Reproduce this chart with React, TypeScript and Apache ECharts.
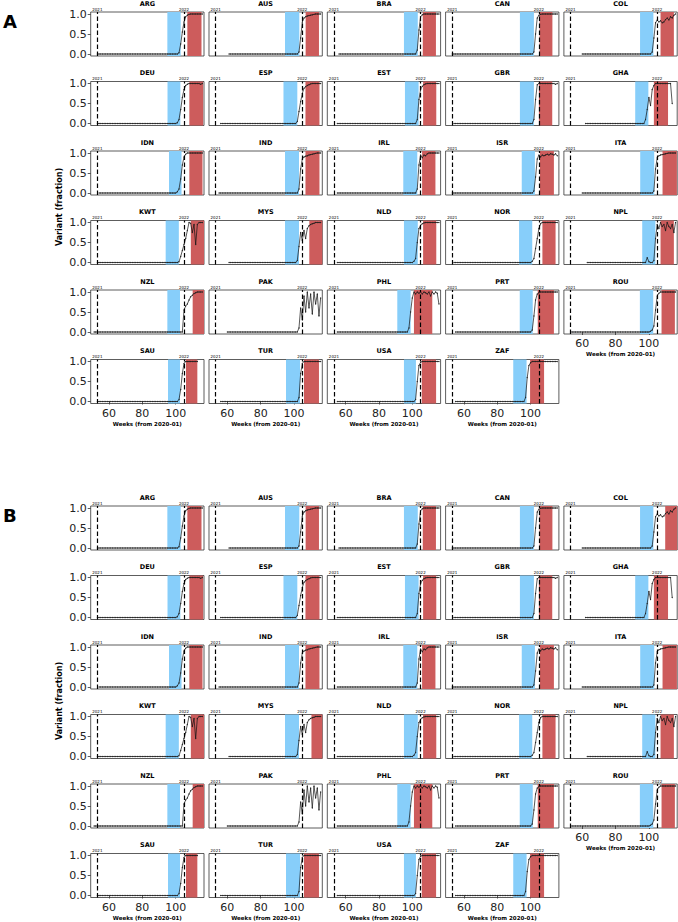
import React, { useEffect, useRef } from "react";
import * as echarts from "echarts";

const COUNTRIES = [
  "ARG", "AUS", "BRA", "CAN", "COL",
  "DEU", "ESP", "EST", "GBR", "GHA",
  "IDN", "IND", "IRL", "ISR", "ITA",
  "KWT", "MYS", "NLD", "NOR", "NPL",
  "NZL", "PAK", "PHL", "PRT", "ROU",
  "SAU", "TUR", "USA", "ZAF",
];

const X_TICKS = [60, 80, 100];
const Y_TICKS = [0, 0.5, 1];
const YEAR_LINES = [53, 105];
const YEAR_LABELS = ["2021", "2022"];

// first week with data; values before RISE are read as 0
const START_A = [53, 61, 56, 53, 60, 53, 56, 55, 54, 62, 54, 55, 55, 53, 60, 53, 61, 55, 54, 63, 51, 60, 55, 55, 53, 53, 56, 55, 55];
const RISE_WEEK_A = [102, 103, 103, 102, 102, 101, 102, 103, 102, 98, 101, 103, 103, 102, 103, 102, 102, 101, 101, 99, 104, 103, 98, 101, 101, 102, 103, 102, 97];
const RISE_A: number[][] = [
  [0.03, 0.25, 0.55, 0.8, 0.93, 0.97, 0.99, 1, 1, 1, 1, 1, 1, 1, 1],
  [0.05, 0.4, 0.8, 0.9, 0.93, 0.95, 0.96, 0.97, 0.98, 0.99, 1, 1, 1, 1],
  [0.1, 0.6, 0.93, 0.98, 1, 1, 1, 1, 1, 1, 1, 1, 1, 1],
  [0.05, 0.5, 0.9, 0.97, 0.99, 1, 1, 1, 1, 1, 1, 1, 1, 1, 1],
  [0.05, 0.4, 0.78, 0.85, 0.8, 0.83, 0.78, 0.8, 0.86, 0.9, 0.85, 0.93, 0.9, 0.97, 1],
  [0.02, 0.1, 0.35, 0.65, 0.85, 0.95, 0.98, 1, 1, 1, 1, 1, 1, 1, 0.98, 1],
  [0.05, 0.3, 0.55, 0.75, 0.88, 0.92, 0.95, 0.97, 0.99, 1, 1, 1, 1, 1, 1],
  [0.1, 0.6, 0.85, 0.93, 0.97, 0.99, 1, 1, 1, 1, 1, 1, 1, 1],
  [0.1, 0.6, 0.97, 1, 1, 1, 1, 1, 1, 1, 1, 1, 1, 0.98, 1],
  [0.1, 0.35, 0.65, 0.45, 0.85, 0.95, 1, 1, 1, 1, 1, 1, 1, 1, 1, 1, 0.5],
  [0.03, 0.1, 0.35, 0.7, 0.9, 0.97, 1, 1, 1, 1, 1, 1, 1, 1, 1, 1],
  [0.1, 0.6, 0.85, 0.9, 0.92, 0.93, 0.95, 0.96, 0.97, 0.98, 0.99, 1, 1, 1],
  [0.1, 0.7, 0.95, 0.88, 0.95, 0.93, 0.98, 1, 1, 1, 1, 1, 1, 1],
  [0.05, 0.4, 0.85, 0.95, 0.9, 0.95, 0.93, 0.95, 0.97, 0.95, 0.98, 0.97, 0.95, 0.98, 0.93],
  [0.05, 0.6, 0.88, 0.93, 0.95, 0.96, 0.97, 0.98, 0.99, 1, 1, 1, 1, 1],
  [0.02, 0.15, 0.3, 0.45, 0.6, 0.8, 1, 0.98, 0.75, 0.95, 0.45, 0.95, 1, 1, 1],
  [0.05, 0.4, 0.75, 0.55, 0.8, 0.6, 0.85, 0.92, 0.95, 0.97, 0.98, 1, 1, 1, 1],
  [0.03, 0.1, 0.5, 0.85, 0.93, 0.97, 0.99, 1, 1, 1, 1, 1, 1, 1, 1, 1],
  [0.03, 0.1, 0.35, 0.6, 0.85, 0.97, 1, 1, 1, 1, 1, 1, 1, 1, 1, 1],
  [0.12, 0.02, 0, 0, 0.05, 0.6, 0.95, 0.85, 1, 0.9, 0.95, 0.8, 1, 0.9, 0.85, 0.95, 0.75, 1],
  [0, 0.55, 0.65, 0.7, 0.8, 0.88, 0.92, 0.96, 0.98, 1, 1, 1, 1],
  [0.1, 0.6, 0.3, 0.9, 0.5, 1, 0.6, 0.95, 0.45, 1, 0.7, 0.95, 0.4, 0.85],
  [0.1, 0.5, 0.85, 1, 0.95, 1, 0.97, 1, 0.95, 1, 0.98, 0.95, 1, 0.9, 1, 0.95, 1, 0.97, 0.7],
  [0.05, 0.4, 0.8, 0.95, 0.98, 1, 1, 1, 1, 1, 1, 1, 1, 1, 1, 1],
  [0.02, 0.05, 0.15, 0.55, 0.9, 0.97, 1, 1, 1, 1, 1, 1, 1, 1, 1, 1],
  [0.05, 0.3, 0.7, 0.95, 1, 1, 1, 1, 1, 1, 1, 1],
  [0.1, 0.7, 0.95, 1, 1, 1, 1, 1, 1, 1, 1, 1, 1, 1],
  [0.05, 0.5, 0.9, 0.98, 1, 1, 1, 1, 1, 1, 1, 1, 1, 1, 1],
  [0.1, 0.6, 0.9, 0.97, 1, 1, 1, 1, 1, 1, 1, 1, 1, 1, 1, 1, 1, 1, 1, 1],
];
const BLUE_A: (number[] | null)[] = [
  [95, 103], [94.6, 103.2], [95, 103.3], [93.6, 102], [94.7, 102.7],
  [95.1, 102.8], [93.7, 102], [95.6, 103.8], [93.6, 102], [91.8, 99.7],
  [96, 103.5], [94.6, 103], [94.6, 103], [94.7, 102.6], [94.8, 103.2],
  [94, 101.9], [94.6, 103], [95, 103.3], [93.1, 101], [96, 103.9],
  [95, 102.6], null, [91, 99], [93.5, 101.3], [94.6, 102.6],
  [95.4, 102.6], [95.2, 103.6], [95, 102.2], [89.6, 97.6],
];
const RED_A: (number[] | null)[] = [
  [107, 115.5], [107, 115], [106.3, 114.2], [105.4, 113.1], [107, 115],
  [108.2, 116.5], [106.9, 115.3], [106.5, 114.4], [105, 113], [103, 111.5],
  [108.2, 116.1], [106.9, 115.3], [105.9, 113.9], [105.6, 114], [108.2, 116.8],
  [109.1, 117], [109.2, 117], [106.5, 114.4], [107.1, 115], [107, 115],
  [110.2, 117], null, [101, 112], [104.3, 114], [107.6, 115.6],
  [106.2, 113], [106, 115], [105.7, 114.3], [99.7, 108.1],
];

// Panel B
const START_B = START_A;
const RISE_WEEK_B = RISE_WEEK_A;
const RISE_B = RISE_A;
const BLUE_B: (number[] | null)[] = [
  [95, 103], [94.6, 103.2], [95, 103.3], [93.6, 102], [94.7, 102.7],
  [95.1, 102.8], [93.7, 102], [95.6, 103.8], [93.6, 102], [91.8, 99.7],
  [96, 103.5], [94.6, 103], [94.6, 103], [94.7, 102.6], [94.8, 103.2],
  [94, 101.9], [94.6, 103], [95, 103.3], [93.1, 101], [96, 103.9],
  [95, 102.6], null, [91, 99], [93.5, 101.3], [94.6, 102.6],
  [95.4, 102.6], [95.2, 103.6], [95, 102.2], [89.6, 97.6],
];
const RED_B: (number[] | null)[] = [
  [107, 115.5], [107, 115], [106.3, 114.2], [105.4, 113.1], [109.8, 117],
  [108.2, 116.5], [106.9, 115.3], [106.5, 114.4], [105, 113], [103, 111.5],
  [108.2, 116.1], [106.9, 115.3], [105.9, 113.9], [105.6, 114], [108.2, 116.8],
  [109.1, 117], [110.5, 117], [106.5, 114.4], [107.1, 115], [107, 115],
  [110.2, 117], null, [101, 112], [104.3, 114], [107.6, 115.6],
  [106.2, 113], [106, 115], [105.7, 114.3], [99.7, 108.1],
];

const PANELS = [
  { label: "A", start: START_A, riseWeek: RISE_WEEK_A, rise: RISE_A, blue: BLUE_A, red: RED_A, offset: 0 },
  { label: "B", start: START_B, riseWeek: RISE_WEEK_B, rise: RISE_B, blue: BLUE_B, red: RED_B, offset: 494 },
];

const COL_LEFT = 90.7;
const COL_STEP = 118.3;
const PLOT_W = 113.3;
const ROW_TOP = 12;
const ROW_STEP = 69.5;
const PLOT_H = 44;
const FONT = "DejaVu Sans";

export default function App() {
  const ref = useRef<HTMLDivElement>(null);
  useEffect(() => {
    const chart = echarts.init(ref.current!, null, { renderer: "svg", width: 678, height: 922 });
    const grids: any[] = [];
    const xAxes: any[] = [];
    const yAxes: any[] = [];
    const series: any[] = [];
    const graphics: any[] = [];

    PANELS.forEach((panel) => {
      graphics.push({
        type: "text", x: 3, y: 12 + panel.offset,
        style: { text: panel.label, font: `bold 18px "${FONT}"`, fill: "#000" },
      });
      graphics.push({
        type: "text", x: 59, y: 207 + panel.offset, rotation: Math.PI / 2,
        style: { text: "Variant (fraction)", font: `bold 8px "${FONT}"`, fill: "#000", align: "center", verticalAlign: "middle" },
      });
      COUNTRIES.forEach((name, i) => {
        const row = Math.floor(i / 5);
        const col = i % 5;
        const left = COL_LEFT + col * COL_STEP;
        const top = ROW_TOP + row * ROW_STEP + panel.offset;
        const idx = grids.length;
        const isBottom = row === 5 || (row === 4 && col === 4);
        const isLeft = col === 0;
        grids.push({
          left, top, width: PLOT_W, height: PLOT_H, show: true,
          borderColor: "#333", borderWidth: 0.8, backgroundColor: "transparent",
        });
        graphics.push({
          type: "text", x: left + PLOT_W / 2, y: top - 8.5,
          style: { text: name, font: `bold 6.5px "${FONT}"`, fill: "#000", align: "center", verticalAlign: "middle" },
        });
        xAxes.push({
          type: "value", gridIndex: idx, min: 49, max: 117,
          axisLine: { show: false }, splitLine: { show: false },
          axisTick: { show: isBottom, customValues: X_TICKS, length: 3, lineStyle: { color: "#333", width: 0.8 } },
          axisLabel: { show: isBottom, customValues: X_TICKS, fontSize: 11, color: "#222", margin: 4, fontFamily: FONT },
          name: isBottom ? "Weeks (from 2020-01)" : "",
          nameLocation: "middle", nameGap: 17,
          nameTextStyle: { fontSize: 5.5, fontWeight: "bold", color: "#000", fontFamily: FONT },
        });
        yAxes.push({
          type: "value", gridIndex: idx, min: -0.05, max: 1.05,
          axisLine: { show: false }, splitLine: { show: false },
          axisTick: { show: isLeft, customValues: Y_TICKS, length: 3, lineStyle: { color: "#333", width: 0.8 } },
          axisLabel: { show: isLeft, customValues: Y_TICKS, fontSize: 11, color: "#222", margin: 4, fontFamily: FONT, formatter: (v: number) => v.toFixed(1) },
        });
        const data: number[][] = [];
        const s = panel.start[i];
        const rw = panel.riseWeek[i];
        for (let w = s; w < rw; w++) data.push([w, 0]);
        panel.rise[i].forEach((v, k) => data.push([rw + k, v]));
        const areas: any[] = [];
        const b = panel.blue[i];
        const r = panel.red[i];
        if (b) areas.push([{ xAxis: b[0], itemStyle: { color: "#87CEFA" } }, { xAxis: b[1] }]);
        if (r) areas.push([{ xAxis: r[0], itemStyle: { color: "#CD5C5C" } }, { xAxis: r[1] }]);
        series.push({
          type: "line", xAxisIndex: idx, yAxisIndex: idx, data,
          showSymbol: true, showAllSymbol: true, symbol: "circle", symbolSize: 1.2,
          itemStyle: { color: "#222" }, lineStyle: { color: "#111", width: 0.7 },
          silent: true, z: 3,
          markArea: { silent: true, data: areas },
          markLine: {
            silent: true, symbol: ["none", "none"],
            lineStyle: { type: [4.5, 2.5], color: "#000", width: 1.2 },
            label: { show: true, position: "end", fontSize: 4, distance: 1, color: "#000", fontFamily: FONT },
            data: YEAR_LINES.map((w, k) => ({ xAxis: w, label: { formatter: YEAR_LABELS[k] } })),
          },
        });
      });
    });

    chart.setOption({
      animation: false,
      grid: grids, xAxis: xAxes, yAxis: yAxes, series, graphic: graphics,
    });
    return () => chart.dispose();
  }, []);
  return <div ref={ref} style={{ position: "absolute", left: 0, top: 0, width: 678, height: 922, background: "#fff" }} />;
}
